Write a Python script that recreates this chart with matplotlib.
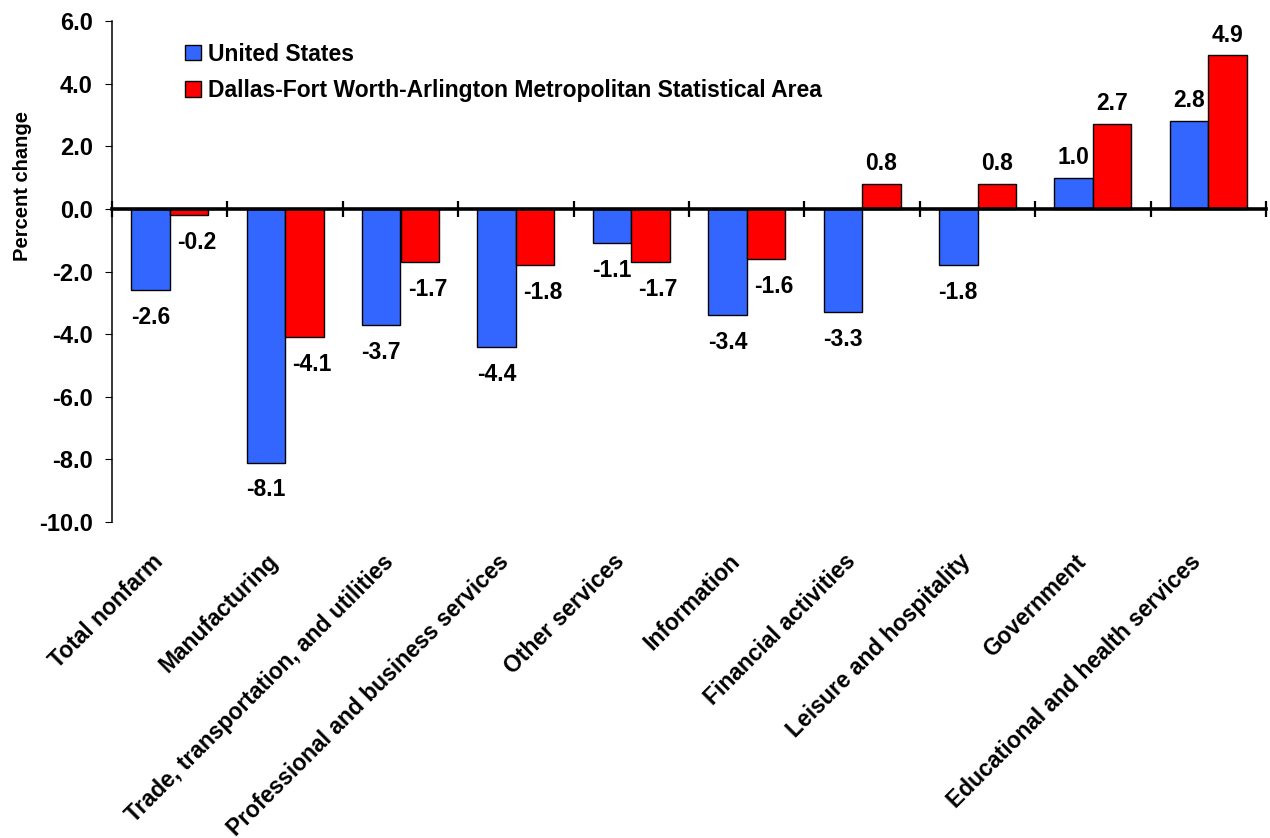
import numpy as np
import matplotlib
matplotlib.use("Agg")
import matplotlib.pyplot as plt
from matplotlib.patches import Patch
from matplotlib.transforms import ScaledTranslation

categories = ["Total nonfarm", "Manufacturing", "Trade, transportation, and utilities",
              "Professional and business services", "Other services", "Information",
              "Financial activities", "Leisure and hospitality", "Government",
              "Educational and health services"]
us_values = [-2.6, -8.1, -3.7, -4.4, -1.1, -3.4, -3.3, -1.8, 1.0, 2.8]
dfw_values = [-0.2, -4.1, -1.7, -1.8, -1.7, -1.6, 0.8, 0.8, 2.7, 4.9]
series_names = ["United States", "Dallas-Fort Worth-Arlington Metropolitan Statistical Area"]
y_ticks = [-10, -8, -6, -4, -2, 0, 2, 4, 6]

plt.rcParams['font.family'] = ['Liberation Sans', 'DejaVu Sans']
plt.rcParams['font.weight'] = 'bold'

BLUE = '#3366FF'
RED = '#FF0000'
FS = 16.5

fig = plt.figure(figsize=(12.7, 8.38), dpi=100)
ax = fig.add_axes([112/1270, 1-522/838, (1266-112)/1270, (522-21)/838])

x = np.arange(len(categories))
w = 0.333
b1 = ax.bar(x - w/2, us_values, w, color=BLUE, edgecolor='black', linewidth=1.0, zorder=1)
b2 = ax.bar(x + w/2, dfw_values, w, color=RED, edgecolor='black', linewidth=1.0, zorder=1)

def label(bars, vals, dx_neg):
    for r, v in zip(bars, vals):
        cx = r.get_x() + r.get_width()/2
        if v < 0:
            ax.annotate(f"{v:.1f}", xy=(cx, v), xytext=(dx_neg, -11.5), textcoords='offset points',
                        ha='center', va='top', fontsize=FS, fontweight='bold')
        else:
            ax.annotate(f"{v:.1f}", xy=(cx, v), xytext=(0, 10), textcoords='offset points',
                        ha='center', va='baseline', fontsize=FS, fontweight='bold')

label(b1, us_values, 0)
label(b2, dfw_values, 5.5)

ax.set_xlim(-0.5, len(categories) - 0.5)
ax.set_ylim(-10, 6)
ax.set_yticks(y_ticks)
ax.set_yticklabels([f"{t:.1f}" for t in y_ticks], fontsize=17, fontweight='bold')
ax.tick_params(axis='y', direction='out', length=5.4, width=0.8, pad=8.5)

for s in ['top', 'right']:
    ax.spines[s].set_visible(False)
ax.spines['left'].set_linewidth(1.1)
ax.spines['bottom'].set_position(('data', 0))
ax.spines['bottom'].set_linewidth(2.6)
ax.set_xticks(np.arange(-0.5, len(categories), 1.0))
ax.tick_params(axis='x', direction='inout', length=11.5, width=1.6, labelbottom=False)

sec = ax.secondary_xaxis(0)
sec.tick_params(length=0, pad=26)
sec.set_xticks(x, labels=categories)
sec.spines['bottom'].set_visible(False)
shift = ScaledTranslation(-7.5/72, 0, fig.dpi_scale_trans)
for t in sec.get_xticklabels():
    t.set_rotation(45)
    t.set_ha('right')
    t.set_va('center')
    t.set_rotation_mode('anchor')
    t.set_fontsize(FS)
    t.set_fontweight('bold')
    t.set_transform(t.get_transform() + shift)

ax.set_ylabel("Percent change", fontsize=14.5, fontweight='bold')
ax.yaxis.set_label_coords(-0.069, 0.671)

handles = [Patch(facecolor=BLUE, edgecolor='black', linewidth=1.0),
           Patch(facecolor=RED, edgecolor='black', linewidth=1.0)]
ax.legend(handles, series_names, loc='upper left', bbox_to_anchor=(0.0633, 0.957),
          frameon=False, handlelength=0.68, handleheight=0.68,
          handletextpad=0.3, labelspacing=0.6, borderpad=0, borderaxespad=0,
          prop={'weight': 'bold', 'size': FS})

fig.savefig("out.png", dpi=100)
